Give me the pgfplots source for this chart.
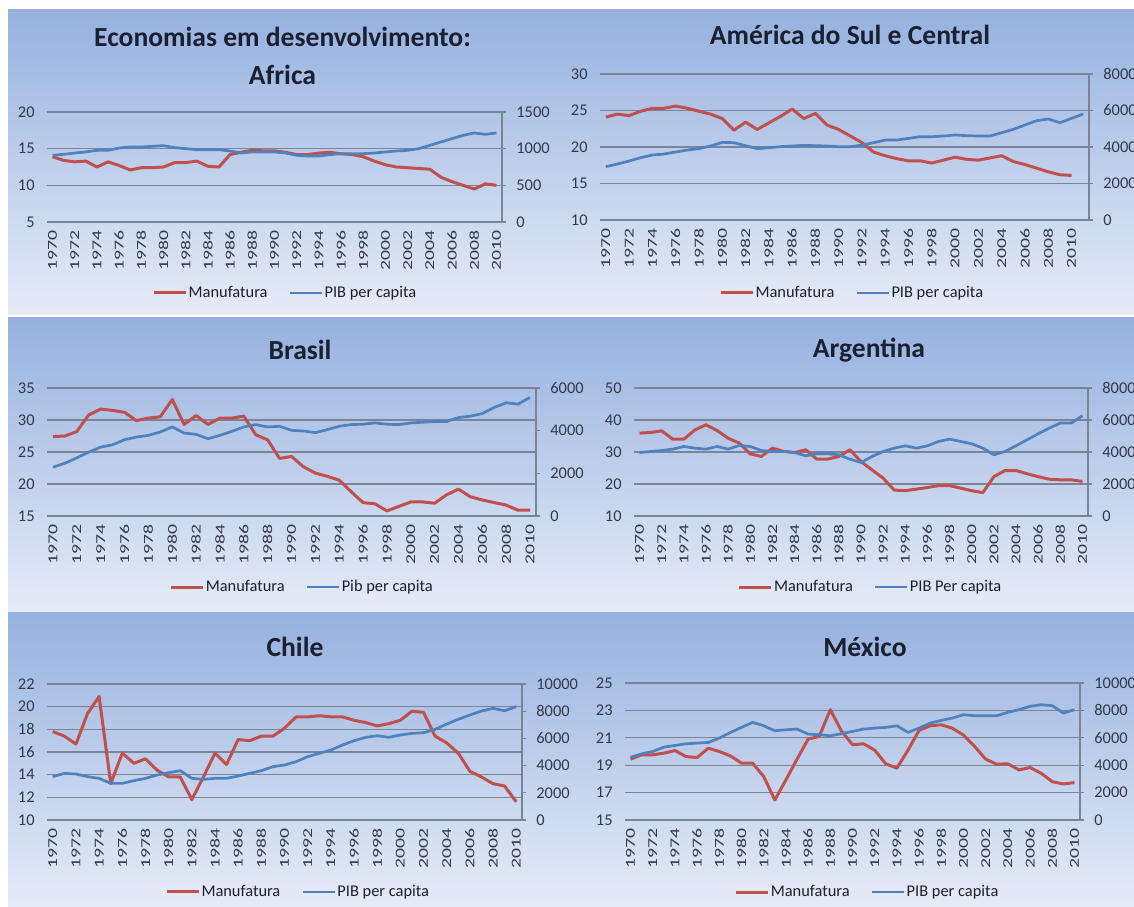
\documentclass[border=0pt]{standalone}
\usepackage{fontspec}
\setmainfont{Carlito}
\usepackage{graphicx}
\usepackage{pgfplots}
\usepackage{pgfplotstable}
\pgfplotsset{compat=1.18}

\definecolor{redl}{HTML}{C0504D}
\definecolor{bluel}{HTML}{4F81BD}
\definecolor{gridc}{HTML}{7A8497}
\definecolor{tickc}{HTML}{33384A}
\definecolor{titc}{HTML}{1A2030}
\definecolor{bgtop}{HTML}{96B1DF}
\definecolor{bgbot}{HTML}{E6ECF7}

\newcommand{\yr}[1]{\scalebox{1.45}[1.0]{\pgfmathprintnumber[fixed,precision=0,1000 sep={}]{#1}}}

\pgfplotsset{
  /pgf/number format/1000 sep={},
  /pgf/number format/assume math mode=true,
  base/.style={scale only axis, xmin=1969.5, xmax=2010.5, scaled y ticks=false,
    tick label style={font=\fontsize{8.2}{9.6}\selectfont, text=tickc}},
  leftax/.style={base, axis x line*=bottom, axis y line*=left,
    axis line style={draw=none}, ymajorgrids,
    grid style={gridc, line width=0.55pt}, major tick length=0pt,
    xtick={1970,1972,...,2010},
    x tick label style={rotate=90, anchor=east, inner sep=0pt, font=\fontsize{6.8}{7}\selectfont},
    xticklabel={\yr{\tick}},
    xticklabel shift=4pt,
    y tick label style={inner sep=0pt}, yticklabel shift=6pt},
  rightax/.style={base, axis x line=none, axis y line*=right,
    axis line style={gridc, line width=0.55pt}, tick align=outside,
    major tick length=2pt, ytick style={gridc, line width=0.55pt},
    y tick label style={inner sep=0pt}, yticklabel shift=5pt,
    legend style={draw=none, fill=none, legend columns=2, anchor=center,
      font=\fontsize{8.2}{9.6}\selectfont, text=titc, inner sep=0pt,
      nodes={inner xsep=0.6pt, inner ysep=1pt},
      /tikz/every even column/.append style={column sep=10pt}},
    legend image code/.code={\draw[##1] (0pt,0pt) -- (16pt,0pt);}},
  mline/.style={redl, line width=1.5pt, line join=round},
  pline/.style={bluel, line width=1.35pt, line join=round},
}

\pgfplotstableread{
year manuf pib
1970 13.9 909
1971 13.4 923
1972 13.2 941
1973 13.3 955
1974 12.5 977
1975 13.2 977
1976 12.7 1009
1977 12.1 1023
1978 12.4 1023
1979 12.4 1032
1980 12.5 1041
1981 13.1 1014
1982 13.1 1000
1983 13.3 986
1984 12.6 986
1985 12.5 986
1986 14.2 968
1987 14.5 941
1988 14.8 955
1989 14.7 955
1990 14.7 955
1991 14.5 941
1992 14.2 909
1993 14.2 900
1994 14.4 900
1995 14.5 918
1996 14.3 932
1997 14.2 932
1998 13.9 932
1999 13.3 941
2000 12.8 955
2001 12.5 968
2002 12.4 977
2003 12.3 1000
2004 12.2 1045
2005 11.1 1091
2006 10.5 1136
2007 10.0 1182
2008 9.5 1214
2009 10.2 1195
2010 10.0 1214
}\africa

\pgfplotstableread{
year manuf pib
1970 24.1 2922
1971 24.5 3068
1972 24.3 3232
1973 24.9 3415
1974 25.3 3561
1975 25.3 3615
1976 25.6 3725
1977 25.3 3835
1978 24.9 3908
1979 24.5 4054
1980 23.9 4255
1981 22.3 4236
1982 23.4 4072
1983 22.4 3908
1984 23.3 3962
1985 24.2 4017
1986 25.2 4054
1987 23.9 4090
1988 24.6 4072
1989 23.0 4054
1990 22.4 4017
1991 21.5 4017
1992 20.6 4109
1993 19.3 4236
1994 18.8 4382
1995 18.4 4382
1996 18.1 4474
1997 18.1 4565
1998 17.8 4565
1999 18.2 4602
2000 18.6 4656
2001 18.3 4620
2002 18.2 4602
2003 18.5 4602
2004 18.8 4784
2005 18.0 4967
2006 17.6 5204
2007 17.1 5441
2008 16.6 5533
2009 16.2 5332
2010 16.1 5570
2011 nan 5807
}\america

\pgfplotstableread{
year manuf pib
1970 27.4 2284
1971 27.5 2473
1972 28.2 2725
1973 30.8 2993
1974 31.7 3229
1975 31.5 3339
1976 31.2 3575
1977 29.9 3701
1978 30.3 3780
1979 30.5 3938
1980 33.2 4174
1981 29.3 3890
1982 30.7 3827
1983 29.3 3623
1984 30.3 3780
1985 30.3 3969
1986 30.6 4174
1987 27.7 4284
1988 26.9 4174
1989 24.0 4205
1990 24.3 4016
1991 22.7 3985
1992 21.7 3906
1993 21.2 4048
1994 20.6 4205
1995 18.8 4284
1996 17.1 4300
1997 16.9 4363
1998 15.8 4300
1999 16.5 4284
2000 17.2 4363
2001 17.2 4394
2002 17.0 4426
2003 18.3 4426
2004 19.2 4615
2005 18.0 4678
2006 17.5 4804
2007 17.1 5087
2008 16.7 5308
2009 15.9 5245
2010 15.9 5560
}\brasil

\pgfplotstableread{
year manuf pib
1970 35.9 3969
1971 36.1 4032
1972 36.6 4094
1973 34.0 4178
1974 34.0 4345
1975 36.9 4241
1976 38.5 4178
1977 36.7 4345
1978 34.3 4178
1979 32.8 4408
1980 29.4 4345
1981 28.6 4094
1982 31.2 4032
1983 30.2 4032
1984 29.8 3969
1985 30.7 3760
1986 27.8 3886
1987 27.8 3886
1988 28.6 3823
1989 30.7 3551
1990 27.0 3342
1991 24.4 3718
1992 21.8 4032
1993 18.1 4241
1994 17.9 4387
1995 18.4 4241
1996 18.9 4387
1997 19.5 4658
1998 19.5 4805
1999 18.7 4658
2000 17.9 4512
2001 17.3 4241
2002 22.3 3823
2003 24.2 4032
2004 24.2 4387
2005 23.2 4763
2006 22.3 5139
2007 21.5 5494
2008 21.3 5808
2009 21.3 5808
2010 20.8 6267
}\argentina

\pgfplotstableread{
year manuf pib
1970 17.8 3185
1971 17.4 3430
1972 16.7 3381
1973 19.4 3185
1974 20.9 3063
1975 13.2 2695
1976 15.9 2695
1977 15.0 2891
1978 15.4 3063
1979 14.4 3308
1980 13.8 3479
1981 13.8 3626
1982 11.8 3063
1983 13.8 2989
1984 15.9 3063
1985 14.9 3063
1986 17.1 3234
1987 17.0 3430
1988 17.4 3626
1989 17.4 3920
1990 18.1 4043
1991 19.1 4288
1992 19.1 4655
1993 19.2 4900
1994 19.1 5145
1995 19.1 5513
1996 18.8 5831
1997 18.6 6076
1998 18.3 6199
1999 18.5 6076
2000 18.8 6248
2001 19.6 6370
2002 19.5 6419
2003 17.4 6664
2004 16.8 7056
2005 15.9 7399
2006 14.3 7718
2007 13.8 8012
2008 13.2 8208
2009 13.0 8036
2010 11.6 8330
}\chile

\pgfplotstableread{
year manuf pib
1970 19.44 4587
1971 19.76 4831
1972 19.76 5002
1973 19.88 5319
1974 20.07 5441
1975 19.63 5563
1976 19.56 5612
1977 20.24 5661
1978 20.00 5978
1979 19.68 6393
1980 19.15 6759
1981 19.15 7125
1982 18.17 6881
1983 16.46 6515
1984 17.93 6588
1985 19.44 6637
1986 20.90 6271
1987 21.10 6222
1988 23.05 6149
1989 21.50 6295
1990 20.50 6466
1991 20.56 6637
1992 20.10 6710
1993 19.10 6759
1994 18.78 6881
1995 20.10 6393
1996 21.54 6710
1997 21.88 7076
1998 21.95 7271
1999 21.70 7442
2000 21.20 7686
2001 20.37 7613
2002 19.44 7613
2003 19.07 7613
2004 19.10 7857
2005 18.66 8052
2006 18.83 8296
2007 18.41 8418
2008 17.80 8345
2009 17.63 7808
2010 17.73 8052
}\mexico

\begin{document}
\begin{tikzpicture}
\useasboundingbox (0,0) rectangle (567pt,453pt);
\fill[white] (0,0) rectangle (567pt,453pt);
\shade[top color=bgtop, bottom color=bgbot] (4pt,295.5pt) rectangle (567pt,448pt);
\shade[top color=bgtop, bottom color=bgbot] (4pt,147pt) rectangle (567pt,294pt);
\shade[top color=bgtop, bottom color=bgbot] (4pt,0pt) rectangle (567pt,147pt);

\tikzset{ttl/.style={font=\fontsize{13.8}{19}\selectfont\bfseries, text=titc, align=center}}
\node[ttl] at (141.25pt,425pt) {Economias em desenvolvimento:\\Africa};
\node[ttl] at (425pt,435.5pt) {América do Sul e Central};
\node[ttl] at (150pt,278pt) {Brasil};
\node[ttl] at (434.5pt,278pt) {Argentina};
\node[ttl] at (147.5pt,129.5pt) {Chile};
\node[ttl] at (432.5pt,129.5pt) {México};

% Africa
\begin{axis}[leftax, at={(23.5pt,342pt)}, width=227.5pt, height=55pt,
  ymin=5, ymax=20, ytick={5,10,15,20}]
\addplot[mline] table[x=year, y=manuf] {\africa};
\end{axis}
\begin{axis}[rightax, at={(23.5pt,342pt)}, width=227.5pt, height=55pt,
  ymin=0, ymax=1500, ytick={0,500,1000,1500},
  legend style={at={(axis description cs:0.523,-0.645)}}]
\addlegendimage{mline}\addlegendentry{Manufatura}
\addplot[pline] table[x=year, y=pib] {\africa};
\addlegendentry{PIB per capita}
\end{axis}

% America
\begin{axis}[leftax, at={(300pt,343pt)}, width=244.5pt, height=73pt, xmax=2011.5,
  ymin=10, ymax=30, ytick={10,15,20,25,30}]
\addplot[mline] table[x=year, y=manuf] {\america};
\end{axis}
\begin{axis}[rightax, at={(300pt,343pt)}, width=244.5pt, height=73pt, xmax=2011.5,
  ymin=0, ymax=8000, ytick={0,2000,4000,6000,8000},
  legend style={at={(axis description cs:0.515,-0.5)}}]
\addlegendimage{mline}\addlegendentry{Manufatura}
\addplot[pline] table[x=year, y=pib] {\america};
\addlegendentry{PIB per capita}
\end{axis}

% Brasil
\begin{axis}[leftax, at={(23.5pt,195pt)}, width=244.5pt, height=64pt,
  ymin=15, ymax=35, ytick={15,20,25,30,35}]
\addplot[mline] table[x=year, y=manuf] {\brasil};
\end{axis}
\begin{axis}[rightax, at={(23.5pt,195pt)}, width=244.5pt, height=64pt,
  ymin=0, ymax=6000, ytick={0,2000,4000,6000},
  legend style={at={(axis description cs:0.521,-0.555)}}]
\addlegendimage{mline}\addlegendentry{Manufatura}
\addplot[pline] table[x=year, y=pib] {\brasil};
\addlegendentry{Pib per capita}
\end{axis}

% Argentina
\begin{axis}[leftax, at={(317pt,195pt)}, width=227pt, height=64pt,
  ymin=10, ymax=50, ytick={10,20,30,40,50}]
\addplot[mline] table[x=year, y=manuf] {\argentina};
\end{axis}
\begin{axis}[rightax, at={(317pt,195pt)}, width=227pt, height=64pt,
  ymin=0, ymax=8000, ytick={0,2000,4000,6000,8000},
  legend style={at={(axis description cs:0.52,-0.555)}}]
\addlegendimage{mline}\addlegendentry{Manufatura}
\addplot[pline] table[x=year, y=pib] {\argentina};
\addlegendentry{PIB Per capita}
\end{axis}

% Chile
\begin{axis}[leftax, at={(23.5pt,43pt)}, width=237.5pt, height=68pt,
  ymin=10, ymax=22, ytick={10,12,14,16,18,20,22}]
\addplot[mline] table[x=year, y=manuf] {\chile};
\end{axis}
\begin{axis}[rightax, at={(23.5pt,43pt)}, width=237.5pt, height=68pt,
  ymin=0, ymax=10000, ytick={0,2000,4000,6000,8000,10000},
  legend style={at={(axis description cs:0.528,-0.529)}}]
\addlegendimage{mline}\addlegendentry{Manufatura}
\addplot[pline] table[x=year, y=pib] {\chile};
\addlegendentry{PIB per capita}
\end{axis}

% Mexico
\begin{axis}[leftax, at={(312.5pt,43pt)}, width=227.5pt, height=68.5pt,
  ymin=15, ymax=25, ytick={15,17,19,21,23,25}]
\addplot[mline] table[x=year, y=manuf] {\mexico};
\end{axis}
\begin{axis}[rightax, at={(312.5pt,43pt)}, width=227.5pt, height=68.5pt,
  ymin=0, ymax=10000, ytick={0,2000,4000,6000,8000,10000},
  legend style={at={(axis description cs:0.532,-0.526)}}]
\addlegendimage{mline}\addlegendentry{Manufatura}
\addplot[pline] table[x=year, y=pib] {\mexico};
\addlegendentry{PIB per capita}
\end{axis}
\end{tikzpicture}
\end{document}
